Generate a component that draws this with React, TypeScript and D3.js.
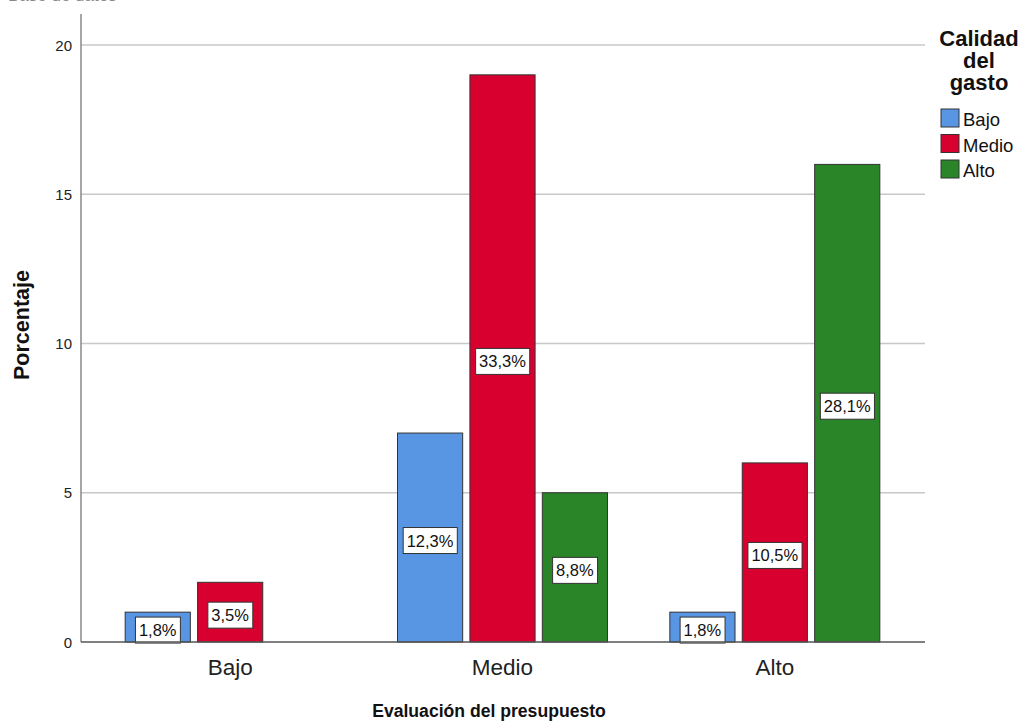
import React, { useEffect, useRef } from "react";
import * as d3 from "d3";

const categories = ["Bajo", "Medio", "Alto"];
const series = ["Bajo", "Medio", "Alto"];
// percent values per series, per category (null = no bar)
const bajoValues = [1, 7, 1];
const medioValues = [2, 19, 6];
const altoValues: (number | null)[] = [null, 5, 16];
const bajoLabels = ["1,8%", "12,3%", "1,8%"];
const medioLabels = ["3,5%", "33,3%", "10,5%"];
const altoLabels = ["", "8,8%", "28,1%"];
const yTicks = [0, 5, 10, 15, 20];
const colors = ["#5895E3", "#D7002F", "#2A8529"];

const FONT = "'Liberation Sans', Arial, sans-serif";

export default function App() {
  const ref = useRef<SVGSVGElement>(null);

  useEffect(() => {
    if (!ref.current) return;
    const svg = d3.select(ref.current);
    svg.selectAll("*").remove();

    const left = 81, right = 925, top = 45, bottom = 642;
    const y = d3.scaleLinear().domain([0, 20]).range([bottom, top]);
    const x0 = d3.scaleBand().domain(categories).range([94, 911]).padding(0);
    const x1 = d3.scaleBand().domain(series).range([0, 210]).paddingInner(0.1);

    // cut-off title fragment at the top edge
    svg.append("text").attr("x", 8).attr("y", 1).attr("font-family", FONT)
      .attr("font-size", 17).attr("fill", "#888").text("Base de datos");

    // gridlines
    svg.append("g").selectAll("line").data(yTicks.filter(t => t > 0)).enter().append("line")
      .attr("x1", left).attr("x2", right)
      .attr("y1", d => y(d)).attr("y2", d => y(d))
      .attr("stroke", "#c8c8c8").attr("stroke-width", 1.3);

    // y tick labels
    svg.append("g").selectAll("text").data(yTicks).enter().append("text")
      .attr("x", 72).attr("y", d => y(d) + 5.5)
      .attr("text-anchor", "end").attr("font-family", FONT).attr("font-size", 15)
      .attr("fill", "#222").text(d => d);

    const rows = categories.map((c, i) => [
      { cat: c, s: 0, v: bajoValues[i], label: bajoLabels[i] },
      { cat: c, s: 1, v: medioValues[i], label: medioLabels[i] },
      { cat: c, s: 2, v: altoValues[i], label: altoLabels[i] },
    ]).flat().filter(d => d.v !== null) as { cat: string; s: number; v: number; label: string }[];

    const barX = (d: { cat: string; s: number }) =>
      (x0(d.cat) as number) + x0.bandwidth() / 2 - 105 + (x1(series[d.s]) as number);

    svg.append("g").selectAll("rect").data(rows).enter().append("rect")
      .attr("x", d => barX(d)).attr("y", d => y(d.v))
      .attr("width", x1.bandwidth()).attr("height", d => bottom - y(d.v))
      .attr("fill", d => colors[d.s]).attr("stroke", "#333").attr("stroke-width", 1);

    // value labels in white boxes
    const lg = svg.append("g");
    rows.forEach(d => {
      const cx = barX(d) + x1.bandwidth() / 2;
      const cy = (y(d.v) + bottom) / 2 + 3;
      const t = lg.append("text").attr("x", cx).attr("y", cy + 6)
        .attr("text-anchor", "middle").attr("font-family", FONT).attr("font-size", 16.5)
        .attr("fill", "#111").text(d.label);
      const bb = (t.node() as SVGTextElement).getBBox();
      lg.insert("rect", "text").attr("x", bb.x - 3.5).attr("y", cy - 13)
        .attr("width", bb.width + 7).attr("height", 26)
        .attr("fill", "#fff").attr("stroke", "#333").attr("stroke-width", 1);
      t.raise();
    });

    // axis lines
    svg.append("line").attr("x1", left).attr("x2", left).attr("y1", 14).attr("y2", bottom)
      .attr("stroke", "#888").attr("stroke-width", 1.5);
    svg.append("line").attr("x1", left).attr("x2", right).attr("y1", bottom).attr("y2", bottom)
      .attr("stroke", "#555").attr("stroke-width", 1.3);

    // x tick labels
    svg.append("g").selectAll("text").data(categories).enter().append("text")
      .attr("x", d => (x0(d) as number) + x0.bandwidth() / 2)
      .attr("y", 675).attr("text-anchor", "middle").attr("font-family", FONT)
      .attr("font-size", 22.5).attr("fill", "#222").text(d => d);

    // axis titles
    svg.append("text").attr("x", 489).attr("y", 717).attr("text-anchor", "middle")
      .attr("font-family", FONT).attr("font-size", 17.6).attr("font-weight", "bold")
      .attr("fill", "#111").text("Evaluación del presupuesto");
    svg.append("text").attr("transform", "translate(29,325) rotate(-90)")
      .attr("text-anchor", "middle").attr("font-family", FONT).attr("font-size", 21.5)
      .attr("font-weight", "bold").attr("fill", "#111").text("Porcentaje");

    // legend
    const leg = svg.append("g");
    ["Calidad", "del", "gasto"].forEach((w, i) => {
      leg.append("text").attr("x", 979).attr("y", 46 + i * 22).attr("text-anchor", "middle")
        .attr("font-family", FONT).attr("font-size", 22).attr("font-weight", "bold")
        .attr("fill", "#111").text(w);
    });
    series.forEach((s, i) => {
      const yy = 109 + i * 25.5;
      leg.append("rect").attr("x", 941).attr("y", yy).attr("width", 18).attr("height", 18)
        .attr("fill", colors[i]).attr("stroke", "#333").attr("stroke-width", 1);
      leg.append("text").attr("x", 963).attr("y", yy + 17).attr("font-family", FONT)
        .attr("font-size", 18.5).attr("fill", "#111").text(s);
    });
  }, []);

  return (
    <svg ref={ref} width={1024} height={724}
      style={{ position: "absolute", left: 0, top: 0, background: "#fff" }} />
  );
}
